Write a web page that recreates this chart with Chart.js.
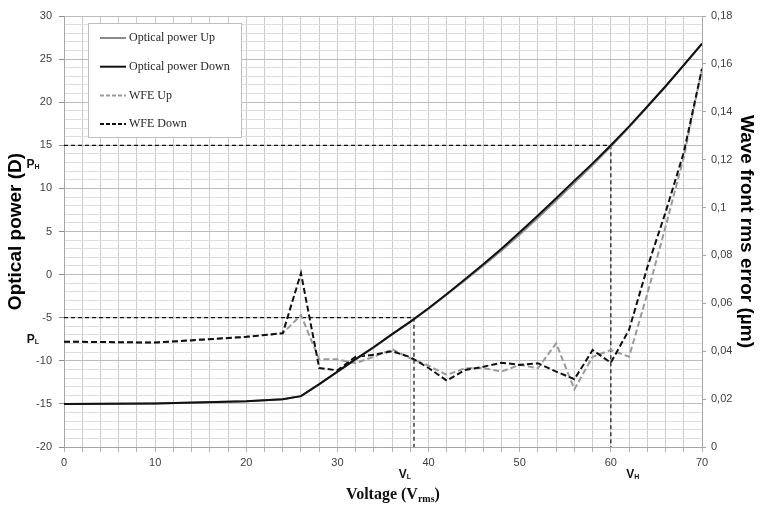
<!DOCTYPE html>
<html><head><meta charset="utf-8">
<script src="https://cdn.jsdelivr.net/npm/chart.js@4/dist/chart.umd.min.js"></script>
<style>html,body{margin:0;padding:0;background:#fff;}#wrap{width:762px;height:506px;}</style>
</head><body><div id="wrap"><canvas id="c" width="762" height="506"></canvas></div>
<script>
// ---- data ----
const voltage   = [0,10,20,24,26,28,30,32,34,36,38,40,42,44,46,48,50,52,54,56,58,60,62,64,66,68,70];
const powerUp   = [-15,-14.95,-14.7,-14.45,-14.1,-12.75,-11.3,-9.85,-8.45,-6.95,-5.5,-3.95,-2.3,-0.65,1.05,2.8,4.65,6.6,8.6,10.65,12.7,14.85,17.1,19.45,21.8,24.3,26.8];
const powerDown = [-15,-14.95,-14.7,-14.45,-14.1,-12.7,-11.25,-9.8,-8.4,-6.9,-5.45,-3.9,-2.25,-0.55,1.2,3.0,4.9,6.85,8.85,10.9,12.9,15.0,17.2,19.5,21.85,24.3,26.8];
const wfeUp     = [0.044,0.0436,0.046,0.0475,0.0551,0.0366,0.0366,0.035,0.0377,0.0408,0.037,0.034,0.0301,0.0329,0.033,0.0315,0.0343,0.0329,0.0433,0.0241,0.0377,0.0405,0.0377,0.064,0.092,0.121,0.158];
const wfeDown   = [0.044,0.0436,0.046,0.0475,0.0726,0.033,0.032,0.0377,0.0385,0.040,0.0375,0.033,0.0277,0.0322,0.0335,0.0352,0.0343,0.035,0.0315,0.0283,0.0405,0.0352,0.049,0.075,0.098,0.123,0.158];
const seriesNames = ['Optical power Up','Optical power Down','WFE Up','WFE Down'];
// operating points: V_L, V_H and P_L, P_H
const refVoltages = [38.4, 60];
const refPowers   = [-5, 15];
const refVLabels  = ['L','H'];
const pLabelValues = [-7.4, 13];
const xRange = [0, 70];
const yRange = [-20, 30];
const y2Range = [0, 0.18];

// ---- build datasets ----
const pts = (xs, ys) => xs.map((x, i) => ({x, y: ys[i]}));
const series = (label, ys, axis, color, dash) => ({
  label, data: pts(voltage, ys), yAxisID: axis, borderColor: color, borderDash: dash,
  borderWidth: 2, pointRadius: 0, tension: 0, fill: false
});
const refLine = (xs, ys) => ({
  label: '', data: pts(xs, ys), yAxisID: 'y', borderColor: '#111', borderDash: [4, 3],
  borderWidth: 1.2, pointRadius: 0, tension: 0, fill: false
});
const datasets = [
  series(seriesNames[1], powerDown, 'y', '#111111', []),
  series(seriesNames[0], powerUp, 'y', '#8a8a8a', []),
  series(seriesNames[3], wfeDown, 'y2', '#111111', [6, 3]),
  series(seriesNames[2], wfeUp, 'y2', '#9a9a9a', [6, 3])
];
refVoltages.forEach((v, i) => {
  datasets.push(refLine([xRange[0], v], [refPowers[i], refPowers[i]]));
  datasets.push(refLine([v, v], [refPowers[i], yRange[0]]));
});

const legendItems = [
  {text: seriesNames[0], color: '#8a8a8a', dash: []},
  {text: seriesNames[1], color: '#111111', dash: []},
  {text: seriesNames[2], color: '#9a9a9a', dash: [4, 2]},
  {text: seriesNames[3], color: '#111111', dash: [4, 2]}
];

function drawSub(ctx, parts, cx, cy) {
  let w = 0;
  parts.forEach(p => { ctx.font = p.font; p.w = ctx.measureText(p.t).width; w += p.w; });
  let x = cx - w / 2;
  ctx.textAlign = 'left'; ctx.textBaseline = 'alphabetic';
  parts.forEach(p => { ctx.font = p.font; ctx.fillText(p.t, x, cy + (p.dy || 0)); x += p.w; });
}

const overlay = {
  id: 'overlay',
  afterDraw(chart) {
    const ctx = chart.ctx, xs = chart.scales.x, ys = chart.scales.y, ca = chart.chartArea;
    ctx.save();
    const lx = 88.5, ly = 23.5, lw = 153, lh = 114;
    ctx.fillStyle = '#fff'; ctx.fillRect(lx, ly, lw, lh);
    ctx.strokeStyle = '#bfbfbf'; ctx.lineWidth = 1; ctx.strokeRect(lx, ly, lw, lh);
    legendItems.forEach((it, i) => {
      const y = 38 + i * 28.7;
      ctx.beginPath(); ctx.setLineDash(it.dash); ctx.strokeStyle = it.color; ctx.lineWidth = 2;
      ctx.moveTo(100, y); ctx.lineTo(126, y); ctx.stroke();
      ctx.setLineDash([]);
      ctx.fillStyle = '#262626'; ctx.font = '12px "Liberation Serif"';
      ctx.textAlign = 'left'; ctx.textBaseline = 'middle';
      ctx.fillText(it.text, 129, y);
    });
    ctx.fillStyle = '#111';
    pLabelValues.forEach((v, i) => {
      drawSub(ctx, [{t: 'P', font: 'bold 12px "Liberation Sans"'}, {t: refVLabels[i], font: 'bold 7px "Liberation Sans"', dy: 1}], 33, ys.getPixelForValue(v) + 5);
    });
    refVoltages.forEach((v, i) => {
      const px = xs.getPixelForValue(v) + (i === 0 ? -9 : 22);
      drawSub(ctx, [{t: 'V', font: 'bold 12px "Liberation Sans"'}, {t: refVLabels[i], font: 'bold 7px "Liberation Sans"', dy: 1}], px, ca.bottom + 31);
    });
    drawSub(ctx, [
      {t: 'Voltage (V', font: 'bold 16px "Liberation Serif"'},
      {t: 'rms', font: 'bold 10px "Liberation Serif"', dy: 3},
      {t: ')', font: 'bold 16px "Liberation Serif"'}
    ], (ca.left + ca.right) / 2 + 10, ca.bottom + 52);
    ctx.restore();
  }
};

const tickFont = {family: '"Liberation Sans"', size: 11};
const tickColor = '#404040';

new Chart(document.getElementById('c'), {
  type: 'line',
  data: {datasets},
  options: {
    responsive: false, animation: false,
    layout: {padding: {top: 16}},
    plugins: {legend: {display: false}, tooltip: {enabled: false}},
    scales: {
      x: {
        type: 'linear', min: xRange[0], max: xRange[1],
        afterFit: s => { s.height = 59; },
        ticks: {stepSize: 2, autoSkip: false, maxRotation: 0, padding: 4, font: tickFont, color: tickColor,
                callback: v => (v % 10 === 0 ? String(v) : '')},
        grid: {color: '#cccccc', lineWidth: 1, tickLength: 5, tickColor: '#b0b0b0'},
        border: {color: '#a6a6a6'}
      },
      y: {
        position: 'left', min: yRange[0], max: yRange[1],
        afterFit: s => { s.width = 64; },
        ticks: {stepSize: 1, autoSkip: false, padding: 7, font: tickFont, color: tickColor,
                callback: v => (v % 5 === 0 ? String(v) : '')},
        grid: {
          color: c => (c.tick && c.tick.value % 5 === 0 ? '#bdbdbd' : '#dedede'),
          tickLength: 5,
          tickColor: c => (c.tick && c.tick.value % 5 === 0 ? '#8c8c8c' : 'rgba(0,0,0,0)')
        },
        border: {color: '#a6a6a6'},
        title: {display: true, text: 'Optical power (D)', color: '#000',
                font: {family: '"Liberation Sans"', weight: 'bold', size: 19}, padding: {top: 4, bottom: 0}}
      },
      y2: {
        position: 'right', min: y2Range[0], max: y2Range[1],
        afterFit: s => { s.width = 60; },
        ticks: {stepSize: 0.02, autoSkip: false, padding: 5, font: tickFont, color: tickColor,
                callback: v => String(Number(v.toFixed(2))).replace('.', ',')},
        grid: {drawOnChartArea: false, tickLength: 4, tickColor: '#a6a6a6'},
        border: {color: '#a6a6a6'},
        title: {display: true, text: 'Wave front rms error (µm)', color: '#000',
                font: {family: '"Liberation Sans"', weight: 'bold', size: 19}, padding: {top: 4, bottom: 0}}
      }
    }
  },
  plugins: [overlay]
});
</script></body></html>
